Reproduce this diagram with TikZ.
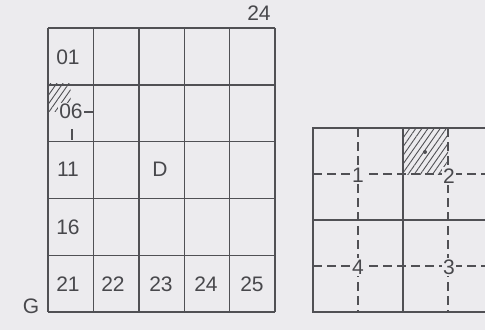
\documentclass[tikz,border=0pt]{standalone}
\usepackage{fontspec}
\setmainfont{Liberation Sans}
\usetikzlibrary{patterns.meta}
\definecolor{bgc}{RGB}{236,235,238}
\definecolor{ink}{RGB}{80,80,84}
\definecolor{txt}{RGB}{72,72,76}
\tikzset{
  gridline/.style={draw=ink, line width=1.4pt},
  dashline/.style={draw=ink, line width=1.2pt, dash pattern=on 9pt off 5pt},
  tick/.style={draw=ink, line width=1.2pt},
  lbl/.style={text=txt, font=\fontsize{21}{21}\selectfont, inner sep=1pt},
  numlbl/.style={lbl, fill=bgc, inner sep=1.5pt},
  hatch/.style={pattern={Lines[angle=55,distance=5pt,line width=0.9pt]}, pattern color=ink}
}
\begin{document}
\begin{tikzpicture}[x=1pt,y=-1pt]
\clip (0,0) rectangle (485,330);
\useasboundingbox (0,0) rectangle (485,330);
\fill[bgc] (0,0) rectangle (485,330);

% ---------- left sheet ----------
\def\xa{48}\def\ya{28}\def\cw{45.4}\def\ch{56.8}
% hatched corner of cell 06
\fill[hatch] (48,83.8) rectangle (70.7,111.5);
\foreach \i in {0,...,5}{
  \draw[gridline] ({\xa+\i*\cw},\ya) -- ({\xa+\i*\cw},{\ya+5*\ch});
  \draw[gridline] (\xa,{\ya+\i*\ch}) -- ({\xa+5*\cw},{\ya+\i*\ch});
}
% ticks of cell 06
\draw[tick] (84,112) -- (93.4,112);
\draw[tick] (72,129) -- (72,140.4);
\node[lbl] (l01) at (68,57) {01};
\node[numlbl] (l06) at (71,111.5) {06};
\node[lbl] (l11) at (68,169) {11};
\node[lbl] (l16) at (68,227) {16};
\node[lbl] (l21) at (68,284) {21};
\node[lbl] (l22) at (113,284) {22};
\node[lbl] (l23) at (161,284) {23};
\node[lbl] (l24) at (206,284) {24};
\node[lbl] (l25) at (252,284) {25};
\node[lbl] (lD) at (160,169) {D};
\node[lbl] (top24) at (259,13) {24};
\node[lbl] (lG) at (31,306) {G};

% ---------- right sheet ----------
\fill[hatch] (403,128) rectangle (448,174);
\fill[ink] (425,152) circle (2);
\draw[dashline] (358,128) -- (358,312);
\draw[dashline] (448,128) -- (448,312);
\draw[dashline] (313,174) -- (495,174);
\draw[dashline] (313,266) -- (495,266);
\draw[gridline] (495,128) -- (313,128) -- (313,312) -- (495,312);
\draw[gridline] (403,128) -- (403,312);
\draw[gridline] (313,220) -- (495,220);
\node[numlbl] (r1) at (358,175) {1};
\node[numlbl] (r2) at (449,176) {2};
\node[numlbl] (r3) at (449,267) {3};
\node[numlbl] (r4) at (358,267) {4};
\end{tikzpicture}
\end{document}
